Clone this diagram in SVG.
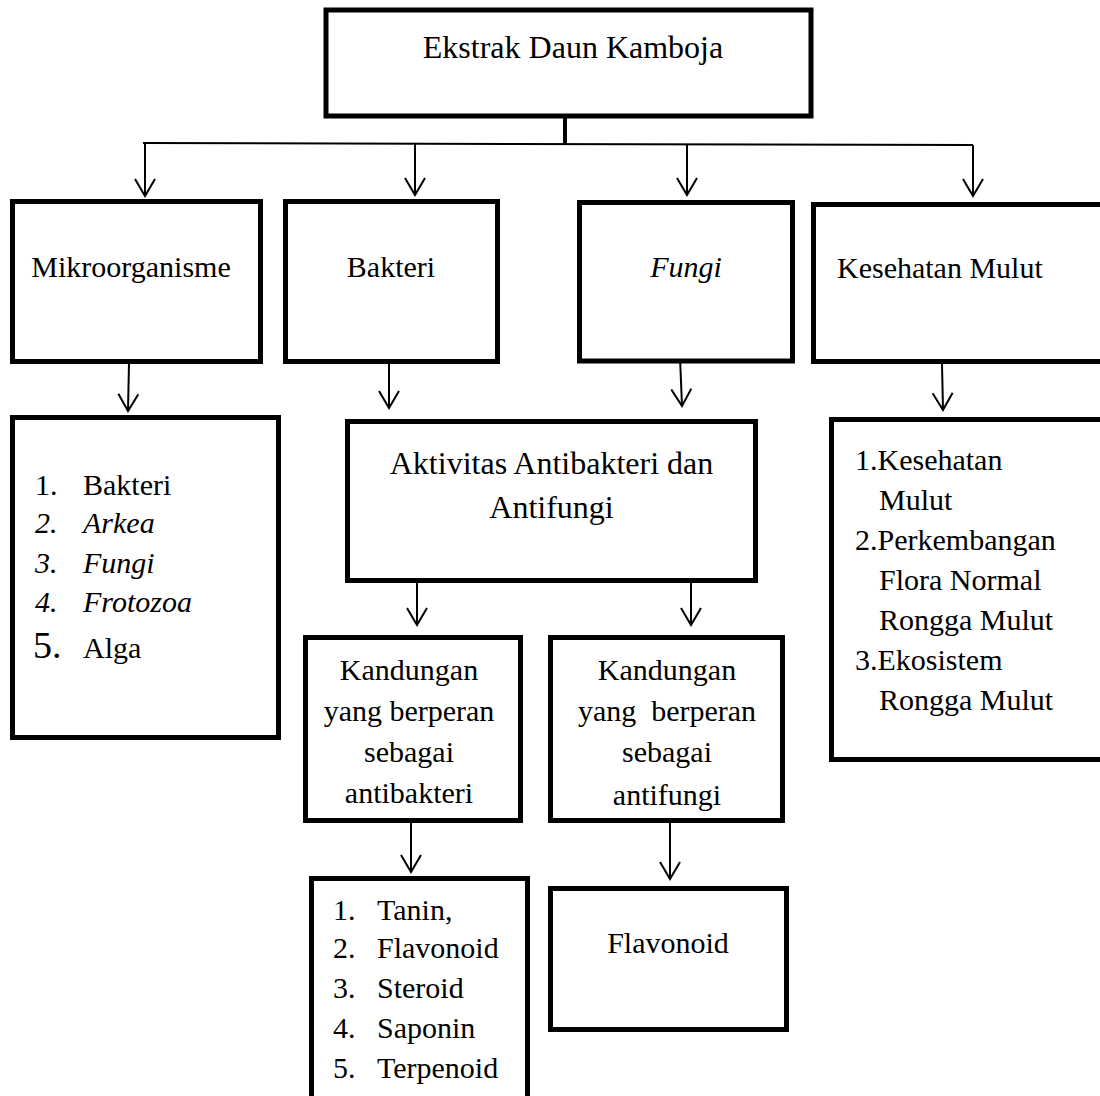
<svg xmlns="http://www.w3.org/2000/svg" width="1100" height="1096" viewBox="0 0 1100 1096">
  <style>
    .box { fill: #fff; stroke: #000; stroke-width: 5; }
    .t { font-family: "Liberation Serif", "Times New Roman", serif; font-size: 30px; fill: #000; }
    .big { font-size: 32px; }
    .c { text-anchor: middle; }
    .i { font-style: italic; }
    .wire { fill: none; stroke: #000; stroke-width: 2; }
    .arr { fill: none; stroke: #000; stroke-width: 2; marker-end: url(#ah); }
  </style>
  <defs>
    <marker id="ah" markerWidth="24" markerHeight="24" refX="18" refY="10" orient="auto" markerUnits="userSpaceOnUse" overflow="visible">
      <path d="M1,0 L18,10 L1,20" fill="none" stroke="#000" stroke-width="2"/>
    </marker>
    <clipPath id="clipKR">
      <rect x="553" y="640" width="227" height="172"/>
    </clipPath>
  </defs>
  <rect width="1100" height="1096" fill="#fff"/>

  <!-- connectors -->
  <g id="connectors">
    <path d="M565,118 V144" fill="none" stroke="#000" stroke-width="4"/>
    <path class="wire" d="M143,143 L973,145"/>
    <path class="arr" d="M145,144 L145,196"/>
    <path class="arr" d="M415,144 L415,195"/>
    <path class="arr" d="M687,144 L687,195"/>
    <path class="arr" d="M973,145 L973,196"/>
    <path class="arr" d="M129,363 L128,411"/>
    <path class="arr" d="M389,363 L389,408"/>
    <path class="arr" d="M680,357 L682,406"/>
    <path class="arr" d="M942,364 L943,410"/>
    <path class="arr" d="M417,583 L417,625"/>
    <path class="arr" d="M691,583 L691,625"/>
    <path class="arr" d="M411,823 L411,872"/>
    <path class="arr" d="M670,823 L670,879"/>
  </g>

  <g id="ekstrak">
    <rect class="box" x="326" y="10" width="485" height="106"/>
    <text class="t big c" x="573" y="58">Ekstrak Daun Kamboja</text>
  </g>

  <g id="mikroorganisme">
    <rect class="box" x="12.5" y="201.5" width="248" height="160"/>
    <text class="t c" x="131" y="277">Mikroorganisme</text>
  </g>

  <g id="bakteri">
    <rect class="box" x="285.5" y="201.5" width="212" height="160"/>
    <text class="t c" x="391" y="277">Bakteri</text>
  </g>

  <g id="fungi">
    <rect class="box" x="579.5" y="202.5" width="213" height="158.5"/>
    <text class="t c i" x="686" y="277">Fungi</text>
  </g>

  <g id="kesehatan">
    <rect class="box" x="813.5" y="204.5" width="300" height="157"/>
    <text class="t" x="837" y="278">Kesehatan Mulut</text>
  </g>

  <g id="daftar-mikroorganisme">
    <rect class="box" x="12.5" y="417.5" width="266" height="320"/>
    <text class="t" x="35" y="495">1.</text>
    <text class="t" x="83" y="495">Bakteri</text>
    <text class="t i" x="35" y="533">2.</text>
    <text class="t i" x="83" y="533">Arkea</text>
    <text class="t i" x="35" y="573">3.</text>
    <text class="t i" x="83" y="573">Fungi</text>
    <text class="t i" x="35" y="612">4.</text>
    <text class="t i" x="83" y="612">Frotozoa</text>
    <text class="t" x="33" y="658" style="font-size:38px">5.</text>
    <text class="t" x="83" y="658">Alga</text>
  </g>

  <g id="aktivitas">
    <rect class="box" x="347.5" y="421.5" width="408" height="159"/>
    <text class="t big c" x="551.5" y="474">Aktivitas Antibakteri dan</text>
    <text class="t big c" x="551.5" y="518">Antifungi</text>
  </g>

  <g id="daftar-kesehatan">
    <rect class="box" x="831.5" y="419.5" width="300" height="340"/>
    <text class="t" x="855" y="470">1.Kesehatan</text>
    <text class="t" x="879" y="510">Mulut</text>
    <text class="t" x="855" y="550">2.Perkembangan</text>
    <text class="t" x="879" y="590">Flora Normal</text>
    <text class="t" x="879" y="630">Rongga Mulut</text>
    <text class="t" x="855" y="670">3.Ekosistem</text>
    <text class="t" x="879" y="710">Rongga Mulut</text>
  </g>

  <g id="kandungan-antibakteri">
    <rect class="box" x="305.5" y="637.5" width="215" height="183"/>
    <text class="t c" x="409" y="680">Kandungan</text>
    <text class="t c" x="409" y="721">yang berperan</text>
    <text class="t c" x="409" y="762">sebagai</text>
    <text class="t c" x="409" y="803">antibakteri</text>
  </g>

  <g id="kandungan-antifungi">
    <rect class="box" x="550.5" y="637.5" width="232" height="183"/>
    <g clip-path="url(#clipKR)">
      <text class="t c" x="667" y="680">Kandungan</text>
      <text class="t c" x="667" y="721" xml:space="preserve">yang  berperan</text>
      <text class="t c" x="667" y="762">sebagai</text>
      <text class="t c" x="667" y="805">antifungi</text>
    </g>
  </g>

  <g id="daftar-antibakteri">
    <rect class="box" x="311.5" y="878.5" width="216" height="300"/>
    <text class="t" x="333" y="920">1.</text>
    <text class="t" x="377" y="920">Tanin,</text>
    <text class="t" x="333" y="958">2.</text>
    <text class="t" x="377" y="958">Flavonoid</text>
    <text class="t" x="333" y="998">3.</text>
    <text class="t" x="377" y="998">Steroid</text>
    <text class="t" x="333" y="1038">4.</text>
    <text class="t" x="377" y="1038">Saponin</text>
    <text class="t" x="333" y="1078">5.</text>
    <text class="t" x="377" y="1078">Terpenoid</text>
  </g>

  <g id="flavonoid">
    <rect class="box" x="550.5" y="888.5" width="236" height="141"/>
    <text class="t c" x="668" y="953">Flavonoid</text>
  </g>
</svg>
